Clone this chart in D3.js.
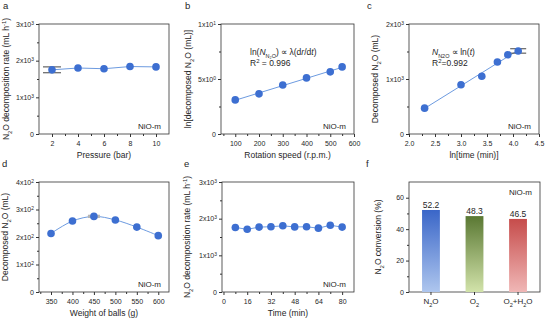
<!DOCTYPE html>
<html>
<head>
<meta charset="utf-8">
<script src="https://cdn.jsdelivr.net/npm/d3@7"></script>
<style>
  body { margin: 0; background: #fff; }
  text { font-family: "Liberation Sans", Arial, sans-serif; }
</style>
</head>
<body>
<div id="chart"></div>
<script>
// ---- data ----
var pressure = [2, 4, 6, 8, 10];
var pressureRate = [1750, 1800, 1780, 1840, 1830];

var speed = [100, 200, 300, 400, 500, 550];
var lnDecomposed = [3.1, 3.65, 4.45, 5.1, 5.65, 6.1];

var lnTime = [2.3, 3.0, 3.4, 3.7, 3.9, 4.1];
var decomposedTime = [470, 895, 1050, 1310, 1440, 1510];

var ballWeight = [350, 400, 450, 500, 550, 600];
var decomposedBalls = [213, 258, 275, 262, 236, 205];

var timeMin = [8, 16, 24, 32, 40, 48, 56, 64, 72, 80];
var timeRate = [1760, 1710, 1770, 1780, 1805, 1775, 1778, 1742, 1820, 1770];

var gases = ["N2O", "O2", "O2+H2O"];
var conversion = [52.2, 48.3, 46.5];

var blue = "#3d6fd1", lineBlue = "#6d9be0", ink = "#262626";
var tickSize = 7, titleSize = 8.5;

var svg = d3.select("#chart").append("svg")
    .attr("width", 546)
    .attr("height", 322);

// text with sub/superscripts: segments like ["N", "_2", "O"] or "^3"
function richText(sel, parts, size) {
  sel.attr("fill", ink);
  parts.forEach(function(p) {
    if (p[0] == "_") {
      sel.append("tspan").attr("font-size", size * 0.7).attr("baseline-shift", "sub").text(p.slice(1));
    } else if (p[0] == "^") {
      sel.append("tspan").attr("font-size", size * 0.7).attr("baseline-shift", "super").text(p.slice(1));
    } else {
      sel.append("tspan").text(p);
    }
  });
}

function sci(v) {
  if (v == 0) return ["0"];
  var e = Math.floor(Math.log10(v) + 1e-9);
  var m = Math.round(v / Math.pow(10, e) * 10) / 10;
  return [m + "x10", "^" + e];
}

function panel(o) {
  var g = svg.append("g");
  var x = o.x, y = o.y;
  var x0 = x.range()[0], x1 = x.range()[1];
  var y0 = y.range()[0], y1 = y.range()[1];

  // frame
  g.append("rect")
    .attr("x", x0).attr("y", y1)
    .attr("width", x1 - x0).attr("height", y0 - y1)
    .attr("fill", "none").attr("stroke", "#333").attr("stroke-width", 0.8);

  // y axis
  var ya = g.append("g").attr("transform", "translate(" + x0 + ",0)")
    .call(d3.axisLeft(y).tickValues(o.yTicks).tickSize(3).tickFormat(""));
  ya.select(".domain").remove();
  ya.selectAll("line").attr("stroke", "#333");
  g.append("g").attr("transform", "translate(" + x0 + ",0)")
    .call(d3.axisLeft(y).tickValues(o.yMinor).tickSize(2).tickFormat(""))
    .call(function(s) { s.select(".domain").remove(); s.selectAll("line").attr("stroke", "#333"); });
  o.yTicks.forEach(function(v) {
    var t = g.append("text").attr("x", x0 - 5).attr("y", y(v) + 2.5)
      .attr("text-anchor", "end").attr("font-size", tickSize);
    richText(t, o.yFmt(v), tickSize);
  });

  // x axis
  if (x.bandwidth) {
    x.domain().forEach(function(d, i) {
      var t = g.append("text").attr("x", x(d) + x.bandwidth() / 2).attr("y", y0 + 12)
        .attr("text-anchor", "middle").attr("font-size", 8);
      richText(t, o.xLabels[i], 8);
      g.append("line").attr("x1", x(d) + x.bandwidth() / 2).attr("x2", x(d) + x.bandwidth() / 2)
        .attr("y1", y0).attr("y2", y0 + 3).attr("stroke", "#333");
    });
  } else {
    var xa = g.append("g").attr("transform", "translate(0," + y0 + ")")
      .call(d3.axisBottom(x).tickValues(o.xTicks).tickSize(3).tickFormat(o.xFmt));
    xa.select(".domain").remove();
    xa.selectAll("line").attr("stroke", "#333");
    xa.selectAll("text").attr("font-size", tickSize).attr("font-family", "Liberation Sans, Arial, sans-serif")
      .attr("fill", ink).attr("dy", "0.85em");
    g.append("g").attr("transform", "translate(0," + y0 + ")")
      .call(d3.axisBottom(x).tickValues(o.xMinor).tickSize(2).tickFormat(""))
      .call(function(s) { s.select(".domain").remove(); s.selectAll("line").attr("stroke", "#333"); });
  }

  // titles
  var yt = g.append("text")
    .attr("transform", "translate(" + o.yTitleX + "," + ((y0 + y1) / 2) + ") rotate(-90)")
    .attr("text-anchor", "middle").attr("font-size", titleSize);
  richText(yt, o.yTitle, titleSize);
  if (o.xTitle) {
    g.append("text").attr("x", (x0 + x1) / 2).attr("y", y0 + 24)
      .attr("text-anchor", "middle").attr("font-size", titleSize).attr("fill", ink).text(o.xTitle);
  }
  g.append("text").attr("x", o.letterX).attr("y", y1 - 15)
    .attr("font-size", 9.5).attr("fill", ink).text(o.letter);

  // NiO-m label
  g.append("text").attr("x", x1 - 8).attr("y", o.labelTop ? y1 + 13 : y0 - 5)
    .attr("text-anchor", "end").attr("font-size", 8).attr("fill", ink).text("NiO-m");
  return g;
}

function linePts(g, x, y, xs, ys, curve) {
  g.append("path")
    .datum(xs.map(function(d, i) { return [d, ys[i]]; }))
    .attr("fill", "none").attr("stroke", lineBlue).attr("stroke-width", 1)
    .attr("d", d3.line().x(function(d) { return x(d[0]); }).y(function(d) { return y(d[1]); }).curve(curve || d3.curveLinear));
}

function fitLine(g, x, y, xs, ys) {
  var n = xs.length, mx = d3.mean(xs), my = d3.mean(ys);
  var k = d3.sum(xs, function(d, i) { return (d - mx) * (ys[i] - my); }) /
          d3.sum(xs, function(d) { return (d - mx) * (d - mx); });
  var ends = [xs[0], xs[n - 1]];
  linePts(g, x, y, ends, ends.map(function(d) { return my + k * (d - mx); }));
}

function dots(g, x, y, xs, ys) {
  g.selectAll(null).data(xs).enter().append("circle")
    .attr("cx", function(d) { return x(d); })
    .attr("cy", function(d, i) { return y(ys[i]); })
    .attr("r", 3.8).attr("fill", blue);
}

function errBar(g, cx, cyLo, cyHi, halfW, color) {
  g.append("line").attr("x1", cx).attr("x2", cx).attr("y1", cyLo).attr("y2", cyHi).attr("stroke", color).attr("stroke-width", 1);
  [cyLo, cyHi].forEach(function(c) {
    g.append("line").attr("x1", cx - halfW).attr("x2", cx + halfW).attr("y1", c).attr("y2", c).attr("stroke", color).attr("stroke-width", 1);
  });
}

var sciFmt = function(v) { return sci(v); };

// ---- panel a ----
var xa = d3.scaleLinear().domain([1, 11]).range([39, 169]);
var ya = d3.scaleLinear().domain([0, 3000]).range([134, 24]);
var ga = panel({ x: xa, y: ya, xTicks: [2, 4, 6, 8, 10], xMinor: [3, 5, 7, 9],
  yTicks: [0, 1000, 2000, 3000], yMinor: [500, 1500, 2500], yFmt: sciFmt, xFmt: d3.format("d"),
  yTitle: ["N", "_2", "O decomposition rate (mL h", "^-1", ")"], yTitleX: 9,
  xTitle: "Pressure (bar)", letter: "a", letterX: 3 });
linePts(ga, xa, ya, pressure, pressureRate);
errBar(ga, xa(2), ya(1670), ya(1830), 9, "#444");
dots(ga, xa, ya, pressure, pressureRate);

// ---- panel b ----
var xb = d3.scaleLinear().domain([40, 600]).range([221, 354]);
var yb = d3.scaleLinear().domain([0, 10]).range([134, 24]);
var gb = panel({ x: xb, y: yb, xTicks: [100, 200, 300, 400, 500, 600], xMinor: [50, 150, 250, 350, 450, 550],
  yTicks: [0, 5, 10], yMinor: [2.5, 7.5], yFmt: sciFmt, xFmt: d3.format("d"),
  yTitle: ["ln[decomposed N", "_2", "O (mL)]"], yTitleX: 191,
  xTitle: "Rotation speed (r.p.m.)", letter: "b", letterX: 185 });
fitLine(gb, xb, yb, speed, lnDecomposed);
dots(gb, xb, yb, speed, lnDecomposed);
var tb = gb.append("text").attr("x", 250).attr("y", 55).attr("font-size", 8.5).attr("fill", ink);
tb.append("tspan").text("ln(");
tb.append("tspan").attr("font-style", "italic").text("N");
tb.append("tspan").attr("font-size", 5.5).attr("baseline-shift", "sub").text("N\u2082O");
tb.append("tspan").text(") \u221d \u03bb(d");
tb.append("tspan").attr("font-style", "italic").text("r");
tb.append("tspan").text("/d");
tb.append("tspan").attr("font-style", "italic").text("t");
tb.append("tspan").text(")");
var rb = gb.append("text").attr("x", 250).attr("y", 66).attr("font-size", 8.5);
richText(rb, ["R", "^2", " = 0.996"], 8.5);

// ---- panel c ----
var xc = d3.scaleLinear().domain([2, 4.5]).range([409, 539]);
var yc = d3.scaleLinear().domain([0, 2000]).range([134, 24]);
var gc = panel({ x: xc, y: yc, xTicks: [2, 2.5, 3, 3.5, 4, 4.5], xMinor: [2.25, 2.75, 3.25, 3.75, 4.25],
  yTicks: [0, 1000, 2000], yMinor: [500, 1500], yFmt: sciFmt, xFmt: d3.format(".1f"),
  yTitle: ["Decomposed N", "_2", "O (mL)"], yTitleX: 378,
  xTitle: "ln[time (min)]", letter: "c", letterX: 367 });
fitLine(gc, xc, yc, lnTime, decomposedTime);
errBar(gc, xc(4.1), yc(1470), yc(1550), 8, "#444");
dots(gc, xc, yc, lnTime, decomposedTime);
var tc = gc.append("text").attr("x", 432).attr("y", 55).attr("font-size", 8.5).attr("fill", ink);
tc.append("tspan").attr("font-style", "italic").text("N");
tc.append("tspan").attr("font-size", 5.5).attr("baseline-shift", "sub").text("N2O");
tc.append("tspan").text(" \u221d ln(");
tc.append("tspan").attr("font-style", "italic").text("t");
tc.append("tspan").text(")");
var rc = gc.append("text").attr("x", 432).attr("y", 66).attr("font-size", 8.5);
richText(rc, ["R", "^2", "=0.992"], 8.5);

// ---- panel d ----
var xd = d3.scaleLinear().domain([322, 625]).range([39, 169]);
var yd = d3.scaleLinear().domain([0, 400]).range([292, 182]);
var gd = panel({ x: xd, y: yd, xTicks: [350, 400, 450, 500, 550, 600], xMinor: [325, 375, 425, 475, 525, 575],
  yTicks: [0, 100, 200, 300, 400], yMinor: [50, 150, 250, 350], yFmt: sciFmt, xFmt: d3.format("d"),
  yTitle: ["Decomposed N", "_2", "O (mL)"], yTitleX: 8,
  xTitle: "Weight of balls (g)", letter: "d", letterX: 2 });
linePts(gd, xd, yd, ballWeight, decomposedBalls, d3.curveCatmullRom.alpha(0.5));
gd.append("rect").attr("x", xd(450) - 6).attr("y", yd(281)).attr("width", 12).attr("height", yd(269) - yd(281))
  .attr("fill", "#b5b5b5");
dots(gd, xd, yd, ballWeight, decomposedBalls);

// ---- panel e ----
var xe = d3.scaleLinear().domain([-1, 88]).range([222, 354]);
var ye = d3.scaleLinear().domain([0, 3000]).range([292, 182]);
var ge = panel({ x: xe, y: ye, xTicks: [0, 16, 32, 48, 64, 80], xMinor: [8, 24, 40, 56, 72],
  yTicks: [0, 1000, 2000, 3000], yMinor: [500, 1500, 2500], yFmt: sciFmt, xFmt: d3.format("d"),
  yTitle: ["N", "_2", "O decomposition rate (mL h", "^-1", ")"], yTitleX: 190,
  xTitle: "Time (min)", letter: "e", letterX: 184 });
linePts(ge, xe, ye, timeMin, timeRate);
dots(ge, xe, ye, timeMin, timeRate);

// ---- panel f ----
var xf = d3.scaleBand().domain(gases).range([409, 540]).paddingInner(0.59).paddingOuter(0.3);
var yf = d3.scaleLinear().domain([0, 70]).range([292, 182]);
var gf = panel({ x: xf, y: yf, yTicks: [0, 20, 40, 60], yMinor: [10, 30, 50],
  yFmt: function(v) { return [String(v)]; },
  xLabels: [["N", "_2", "O"], ["O", "_2"], ["O", "_2", "+H", "_2", "O"]],
  yTitle: ["N", "_2", "O conversion (%)"], yTitleX: 381,
  letter: "f", letterX: 366, labelTop: true });
var grads = [["#3a66c8", "#aec6ee"], ["#5a7833", "#d2e3aa"], ["#c64c4b", "#f0b7b6"]];
var defs = svg.append("defs");
grads.forEach(function(c, i) {
  var lg = defs.append("linearGradient").attr("id", "gf" + i).attr("x1", 0).attr("x2", 0).attr("y1", 0).attr("y2", 1);
  lg.append("stop").attr("offset", "0%").attr("stop-color", c[0]);
  lg.append("stop").attr("offset", "100%").attr("stop-color", c[1]);
});
gf.selectAll(".bar").data(gases).enter().append("rect")
  .attr("x", function(d) { return xf(d); })
  .attr("y", function(d, i) { return yf(conversion[i]); })
  .attr("width", xf.bandwidth())
  .attr("height", function(d, i) { return yf(0) - yf(conversion[i]); })
  .attr("fill", function(d, i) { return "url(#gf" + i + ")"; });
gf.selectAll(".val").data(gases).enter().append("text")
  .attr("x", function(d) { return xf(d) + xf.bandwidth() / 2; })
  .attr("y", function(d, i) { return yf(conversion[i]) - 2; })
  .attr("text-anchor", "middle").attr("font-size", 8.5).attr("fill", ink)
  .text(function(d, i) { return conversion[i].toFixed(1); });
</script>
</body>
</html>
